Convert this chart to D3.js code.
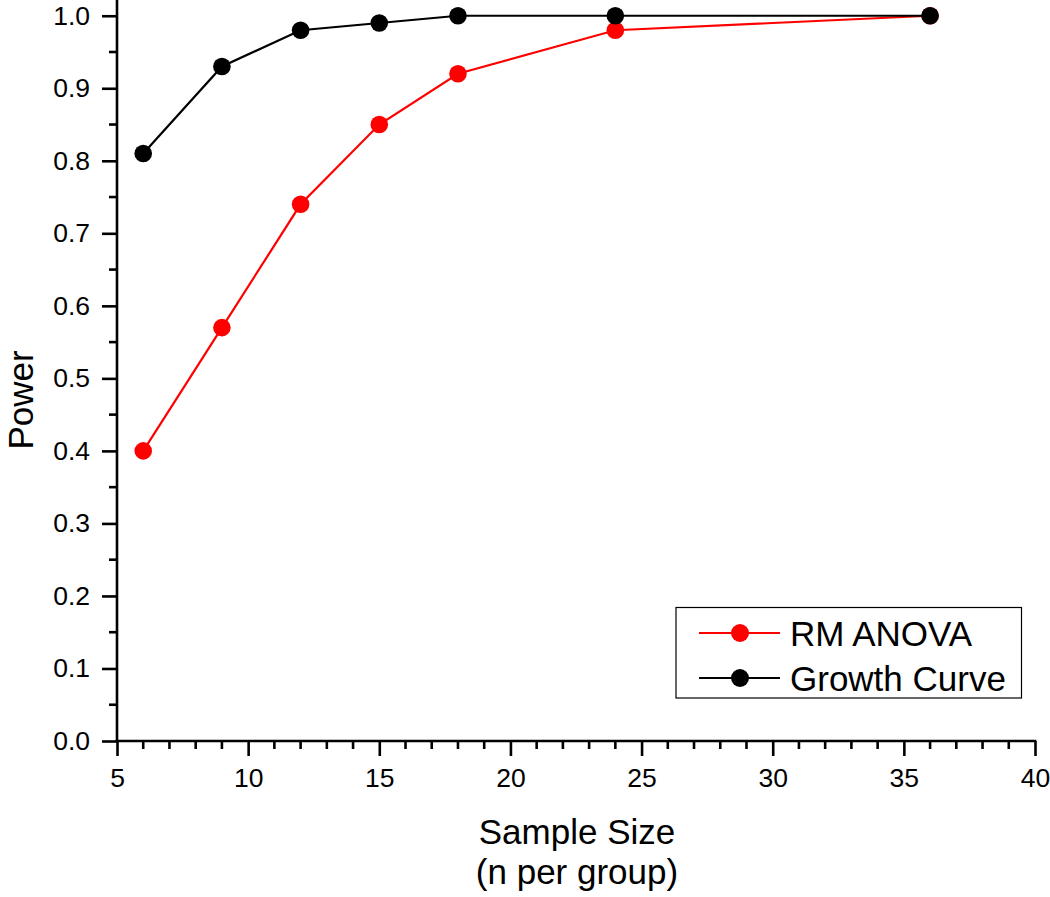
<!DOCTYPE html>
<html>
<head>
<meta charset="utf-8">
<script src="https://cdn.jsdelivr.net/npm/d3@7"></script>
<style>
  html, body { margin: 0; padding: 0; background: #fff; }
  svg { display: block; font-family: "Liberation Sans", Arial, sans-serif; }
</style>
</head>
<body>
<svg id="chart" width="1050" height="897"></svg>
<script>
const sampleSizes = [6, 9, 12, 15, 18, 24, 36];
const rmAnova = [0.40, 0.57, 0.74, 0.85, 0.92, 0.98, 1.00];
const growthCurve = [0.81, 0.93, 0.98, 0.99, 1.00, 1.00, 1.00];
const seriesNames = ["RM ANOVA", "Growth Curve"];
const seriesColors = ["#ff0000", "#000000"];
const xTicks = [5, 10, 15, 20, 25, 30, 35, 40];
const yTicks = [0.0, 0.1, 0.2, 0.3, 0.4, 0.5, 0.6, 0.7, 0.8, 0.9, 1.0];
const xTitle = ["Sample Size", "(n per group)"];
const yTitle = "Power";

(function () {
const svg = d3.select("#chart");
const pL = 117, pR = 1035, pT = 0, pB = 741;

const x = d3.scaleLinear().domain([5, 40]).range([pL, pR]);
const y = d3.scaleLinear().domain([0, 1.0217]).range([pB, pT]);

const xMinor = d3.range(5, 41, 1).filter(v => v % 5 !== 0);
const yMinor = d3.range(0, 21, 1).filter(i => i % 2 === 1).map(i => i * 0.05);

const axisStroke = 2.6;

// X axis
const gx = svg.append("g").attr("transform", `translate(0,${pB})`);
gx.append("line").attr("x1", pL - 1.3).attr("x2", pR + 1.3).attr("y1", 0).attr("y2", 0)
  .attr("stroke", "#000").attr("stroke-width", axisStroke);
gx.selectAll("line.minor").data(xMinor).enter().append("line").attr("class", "minor")
  .attr("x1", d => x(d)).attr("x2", d => x(d)).attr("y1", 0).attr("y2", 8)
  .attr("stroke", "#000").attr("stroke-width", axisStroke);
const xAxis = d3.axisBottom(x).tickValues(xTicks).tickSize(15).tickPadding(12).tickFormat(d3.format("d"));
const gxa = svg.append("g").attr("transform", `translate(0,${pB})`).call(xAxis);
gxa.select(".domain").remove();
gxa.selectAll(".tick line").attr("stroke", "#000").attr("stroke-width", axisStroke);
gxa.selectAll(".tick text").attr("font-size", 26.5).attr("fill", "#000")
  .attr("font-family", "Liberation Sans, Arial, sans-serif");

// Y axis
const gy = svg.append("g").attr("transform", `translate(${pL},0)`);
gy.append("line").attr("x1", 0).attr("x2", 0).attr("y1", 0).attr("y2", pB + 1.3)
  .attr("stroke", "#000").attr("stroke-width", axisStroke);
gy.selectAll("line.minor").data(yMinor).enter().append("line").attr("class", "minor")
  .attr("x1", 0).attr("x2", -8).attr("y1", d => y(d)).attr("y2", d => y(d))
  .attr("stroke", "#000").attr("stroke-width", axisStroke);
const yAxis = d3.axisLeft(y).tickValues(yTicks).tickSize(15).tickPadding(12).tickFormat(d3.format(".1f"));
const gya = svg.append("g").attr("transform", `translate(${pL},0)`).call(yAxis);
gya.select(".domain").remove();
gya.selectAll(".tick line").attr("stroke", "#000").attr("stroke-width", axisStroke);
gya.selectAll(".tick text").attr("font-size", 26.5).attr("fill", "#000")
  .attr("font-family", "Liberation Sans, Arial, sans-serif");

// Axis titles
svg.append("text").attr("x", 577).attr("y", 844).attr("text-anchor", "middle")
  .attr("font-size", 35).attr("fill", "#000").text(xTitle[0]);
svg.append("text").attr("x", 577).attr("y", 884).attr("text-anchor", "middle")
  .attr("font-size", 35).attr("fill", "#000").text(xTitle[1]);
svg.append("text").attr("transform", "translate(32.5,400) rotate(-90)").attr("text-anchor", "middle")
  .attr("font-size", 35).attr("fill", "#000").text(yTitle);

// Series
const series = [rmAnova, growthCurve];
const line = d3.line().x((d, i) => x(sampleSizes[i])).y(d => y(d));
series.forEach((vals, si) => {
  const g = svg.append("g");
  g.append("path").datum(vals).attr("d", line).attr("fill", "none")
    .attr("stroke", seriesColors[si]).attr("stroke-width", 2.2);
  g.selectAll("circle").data(vals).enter().append("circle")
    .attr("cx", (d, i) => x(sampleSizes[i])).attr("cy", d => y(d)).attr("r", 8.8)
    .attr("fill", seriesColors[si]);
});

// Legend
const lg = svg.append("g");
lg.append("rect").attr("x", 676).attr("y", 607.5).attr("width", 345.5).attr("height", 90.5)
  .attr("fill", "#fff").attr("stroke", "#000").attr("stroke-width", 1.2);
const rows = [633, 678];
seriesNames.forEach((name, i) => {
  lg.append("line").attr("x1", 699).attr("x2", 780).attr("y1", rows[i]).attr("y2", rows[i])
    .attr("stroke", seriesColors[i]).attr("stroke-width", 2.2);
  lg.append("circle").attr("cx", 740).attr("cy", rows[i]).attr("r", 9).attr("fill", seriesColors[i]);
  lg.append("text").attr("x", 790).attr("y", rows[i] + 12.5).attr("font-size", 35)
    .attr("fill", "#000").text(name);
});
})();
</script>
</body>
</html>
